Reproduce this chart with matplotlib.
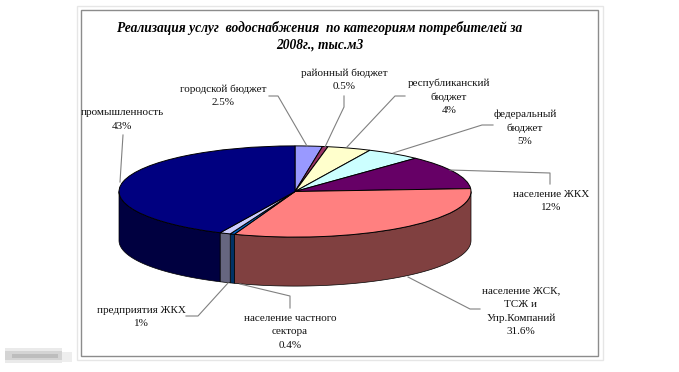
import numpy as np
import matplotlib
matplotlib.use("Agg")
import matplotlib.pyplot as plt
from matplotlib.patches import Rectangle

title = "Реализация услуг  водоснабжения  по категориям потребителей за\n2008г., тыс.м3"
categories = ["городской бюджет", "районный бюджет", "республиканский бюджет", "федеральный бюджет",
              "население ЖКХ", "население ЖСК, ТСЖ и Упр.Компаний", "население частного сектора",
              "предприятия ЖКХ", "промышленность"]
values = [2.5, 0.5, 4, 5, 12, 31.6, 0.4, 1, 43]
top_colors = ["#9999FF", "#993366", "#FFFFCC", "#CCFFFF", "#660066", "#FF8080", "#0066CC", "#CCCCFF", "#000080"]
side_colors = ["#4C4C80", "#4C1933", "#808066", "#668080", "#330033", "#804040", "#003366", "#666680", "#000040"]
label_texts = ["городской бюджет\n2.5%", "районный бюджет\n0.5%", "республиканский\nбюджет\n4%",
               "федеральный\nбюджет\n5%", "население ЖКХ\n12%", "население ЖСК,\nТСЖ и\nУпр.Компаний\n31.6%",
               "население частного\nсектора\n0.4%", "предприятия ЖКХ\n1%", "промышленность\n43%"]
label_pos = [(223, 95.5), (344, 80), (449, 96.5), (525, 127.5), (551, 201), (521, 311.5), (290, 332), (141, 317), (122, 119.5)]
leaders = [[(269, 96), (278, 96), (307, 146)],
           [(344, 96), (344, 107), (333, 130), (325, 147)],
           [(405, 96), (395, 96), (347, 147)],
           [(493, 125), (482, 125), (393, 153)],
           [(450, 170), (550, 173), (550, 184)],
           [(408, 277), (470, 309), (480, 309)],
           [(240, 284), (290, 296), (290, 308)],
           [(228, 283), (198, 316), (186, 316)],
           [(123, 135), (120, 182)]]

W, H = 679, 372
CX, CY, RX, RY, DEPTH = 295, 191.5, 176, 45.6, 49

plt.rcParams["font.family"] = ["Liberation Serif", "DejaVu Serif"]
fig = plt.figure(figsize=(W / 100, H / 100), dpi=100, facecolor="white")

# frame + text layer, in pixel coordinates
bg = fig.add_axes([0, 0, 1, 1], zorder=0)
bg.set_xlim(0, W); bg.set_ylim(H, 0); bg.axis("off")
bg.add_patch(Rectangle((76.5, 5.5), 526, 354, fc="white", ec="#E6E6E6", lw=1))
bg.add_patch(Rectangle((80.5, 9.5), 517.5, 346.5, fc="white", ec="#8C8C8C", lw=1))
for (x0, y0, w, h, col) in [(5, 348, 57, 15, "#EAEAEA"), (62, 352, 10, 10, "#EEEEEE"),
                            (5, 351, 57, 9, "#D4D4D4"), (12, 354, 46, 4, "#BDBDBD")]:
    bg.add_patch(Rectangle((x0, y0), w, h, fc=col, ec="none"))

# pie layer: unit circle squashed by the axes limits
ax = fig.add_axes([0, 0, 1, 1], zorder=1)
ax.patch.set_alpha(0)
wedges, _ = ax.pie(values, colors=top_colors, startangle=90, counterclock=False,
                   wedgeprops=dict(edgecolor="black", linewidth=0.7))
ax.set_aspect("auto")
ax.set_xlim(-CX / RX, (W - CX) / RX)
ax.set_ylim(-(H - CY) / RY, CY / RY)
ax.axis("off")
d = DEPTH / RY
stops = 90 - np.cumsum([0] + values) * 3.6
for i, c in enumerate(side_colors):
    hi, lo = stops[i], stops[i + 1]
    a, b = max(lo, -180), min(hi, 0)
    if b <= a:
        continue
    t = np.radians(np.linspace(a, b, 80))
    x, y = np.cos(t), np.sin(t)
    ax.fill(np.r_[x, x[::-1]], np.r_[y, y[::-1] - d], fc=c, ec="black", lw=0.5, zorder=0.5)

# leaders and labels
ov = fig.add_axes([0, 0, 1, 1], zorder=2)
ov.patch.set_alpha(0)
ov.set_xlim(0, W); ov.set_ylim(H, 0); ov.axis("off")
for pts in leaders:
    xs, ys = zip(*pts)
    ov.plot(xs, ys, color="#808080", lw=0.8)
for txt, (x, y) in zip(label_texts, label_pos):
    ov.text(x, y, txt, ha="center", va="center", fontsize=8.0, linespacing=1.62, color="#111111")
ov.text(320, 36.5, title, ha="center", va="center", fontsize=9.75, fontweight="bold", fontstyle="italic",
        linespacing=1.4, color="black")

fig.savefig("out.png", dpi=100, facecolor="white")
